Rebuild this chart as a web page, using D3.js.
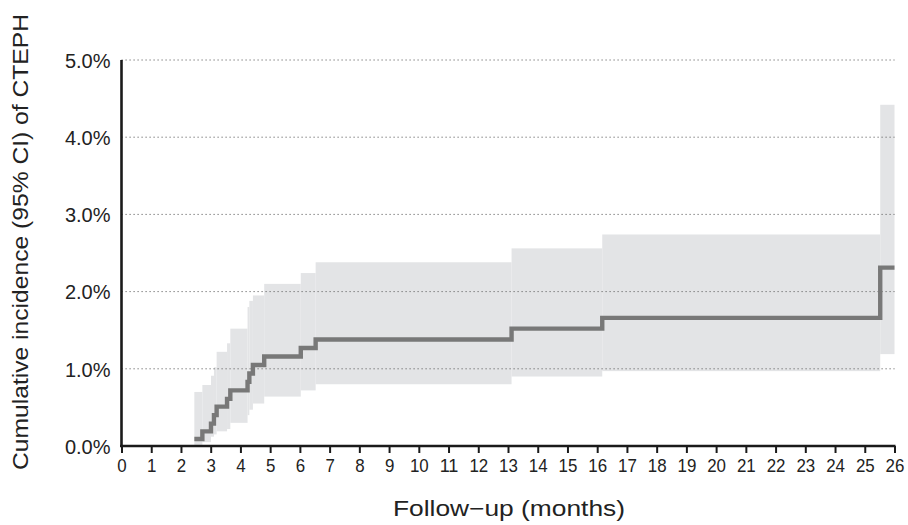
<!DOCTYPE html>
<html>
<head>
<meta charset="utf-8">
<script src="https://cdn.jsdelivr.net/npm/d3@7"></script>
<style>
  html, body { margin: 0; padding: 0; background: #fff; }
  svg { display: block; }
  text { font-family: "Liberation Sans", Arial, Helvetica, sans-serif; fill: #222; }
</style>
</head>
<body>
<svg id="chart" width="908" height="525"></svg>
<script>
// Event times (months) and cumulative incidence (%) with 95% CI
const times    = [2.45, 2.72, 3.01, 3.11, 3.20, 3.55, 3.66, 4.24, 4.30, 4.42, 4.80, 6.03, 6.53, 13.12, 16.17, 25.52];
const estimate = [0.09, 0.19, 0.29, 0.40, 0.51, 0.61, 0.72, 0.83, 0.94, 1.05, 1.16, 1.27, 1.38, 1.52, 1.66, 2.31];
const lower    = [0.01, 0.05, 0.12, 0.15, 0.19, 0.22, 0.30, 0.40, 0.47, 0.55, 0.64, 0.72, 0.80, 0.90, 0.97, 1.19];
const upper    = [0.70, 0.79, 0.91, 1.02, 1.22, 1.33, 1.52, 1.80, 1.88, 1.95, 2.10, 2.24, 2.38, 2.56, 2.74, 4.42];
const endTime  = 26;

const xTicks = d3.range(0, 27, 1);
const yTicks = [0, 1, 2, 3, 4, 5];
const xTitle = "Follow\u2212up (months)";
const yTitle = "Cumulative incidence (95% CI) of CTEPH";

const svg = d3.select("#chart");
const x = d3.scaleLinear().domain([0, 26]).range([121.5, 894.5]);
const y = d3.scaleLinear().domain([0, 5]).range([446, 60]);

// CI band as step rectangles
const segs = times.map((t, i) => ({
  t0: t, t1: i < times.length - 1 ? times[i + 1] : endTime,
  lo: lower[i], hi: upper[i], est: estimate[i]
}));

svg.append("g").selectAll("rect").data(segs).join("rect")
  .attr("x", d => x(d.t0))
  .attr("width", d => x(d.t1) - x(d.t0))
  .attr("y", d => y(d.hi))
  .attr("height", d => y(d.lo) - y(d.hi))
  .attr("fill", "#e3e4e6");

// dotted gridlines
svg.append("g").selectAll("line").data(yTicks.filter(v => v > 0)).join("line")
  .attr("x1", x(0)).attr("x2", x(26))
  .attr("y1", d => y(d)).attr("y2", d => y(d))
  .attr("stroke", "#666").attr("stroke-width", 1)
  .attr("stroke-dasharray", "1.2,2.8");

// step line
const stepPts = segs.flatMap(d => [[d.t0, d.est], [d.t1, d.est]]);
const line = d3.line().x(d => x(d[0])).y(d => y(d[1])).curve(d3.curveLinear);
svg.append("path").datum(stepPts)
  .attr("d", line)
  .attr("fill", "none").attr("stroke", "#787878").attr("stroke-width", 4.4)
  .attr("stroke-linejoin", "miter").attr("stroke-linecap", "butt");

// x axis
const xAxis = d3.axisBottom(x).tickValues(xTicks).tickFormat(d3.format("d")).tickSize(7).tickSizeOuter(0);
const gx = svg.append("g").attr("transform", `translate(0,${y(0)})`).call(xAxis);
gx.select(".domain").attr("stroke", "#1a1a1a").attr("stroke-width", 2.6)
  .attr("d", `M${x(0) - 1.5},0H${x(26) + 1}`);
gx.selectAll(".tick line").attr("stroke", "#1a1a1a").attr("stroke-width", 2);
gx.selectAll(".tick text").attr("y", 13).attr("dy", "0.71em")
  .style("font-size", "19px").style("font-family", "Liberation Sans, Arial, sans-serif").attr("fill", "#222")
  .attr("textLength", d => String(d).length * 9.4).attr("lengthAdjust", "spacingAndGlyphs");

// y axis
const yAxis = d3.axisLeft(y).tickValues(yTicks).tickFormat(d => d.toFixed(1) + "%").tickSize(0);
const gy = svg.append("g").attr("transform", `translate(${x(0)},0)`).call(yAxis);
gy.select(".domain").attr("stroke", "#1a1a1a").attr("stroke-width", 2.6)
  .attr("d", `M0,${y(0) + 1}V${y(5)}`);
gy.selectAll(".tick text").attr("x", -11).attr("dy", "0.36em")
  .style("font-size", "20px").style("font-family", "Liberation Sans, Arial, sans-serif").attr("fill", "#222");

// titles
svg.append("text").attr("x", 509).attr("y", 516).attr("text-anchor", "middle")
  .style("font-size", "22px").attr("textLength", 232).attr("lengthAdjust", "spacingAndGlyphs")
  .text(xTitle);
svg.append("text").attr("transform", "translate(28,242) rotate(-90)").attr("text-anchor", "middle")
  .style("font-size", "22px").attr("textLength", 456).attr("lengthAdjust", "spacingAndGlyphs")
  .text(yTitle);
</script>
</body>
</html>
